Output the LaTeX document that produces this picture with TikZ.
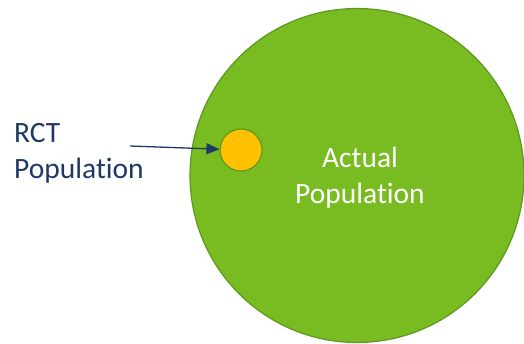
\documentclass[tikz,border=0pt]{standalone}
\usepackage{fontspec}
\setmainfont[Ligatures=NoCommon]{Carlito}
\usetikzlibrary{arrows.meta}
\definecolor{popgreen}{HTML}{78BC22}
\definecolor{popedge}{HTML}{5E9820}
\definecolor{rctorange}{HTML}{FFC000}
\definecolor{labelblue}{HTML}{1F3864}
\begin{document}
\begin{tikzpicture}[x=1pt,y=-1pt,
                      big node/.style={circle,fill=popgreen,draw=popedge,line width=1.2pt,
                      inner sep=0pt,minimum size=334pt},
                      small node/.style={circle,fill=rctorange,draw=popedge,line width=1.2pt,
                      inner sep=0pt,minimum size=42pt},
                      label text/.style={align=left,anchor=north west,inner sep=0pt,
                      font=\fontsize{29.5}{36}\selectfont}
                     ]
   \useasboundingbox (0,0) rectangle (524,344);
   \node[big node] (actual) at (357,175.5) {};
   \node[align=center,text=white,font=\fontsize{29.5}{36}\selectfont] (actualtext) at (360,178) {Actual\\Population};
   \node[small node] (rct) at (241,150) {};
   \node[label text,text=labelblue] (rcttext) at (14,123) {RCT\\Population};
   \coordinate (tail) at (130,146);
   \draw[labelblue,line width=1.3pt,-{Stealth[length=13pt,width=11pt,inset=0pt]}] (tail) -- (rct);
\end{tikzpicture}
\end{document}
